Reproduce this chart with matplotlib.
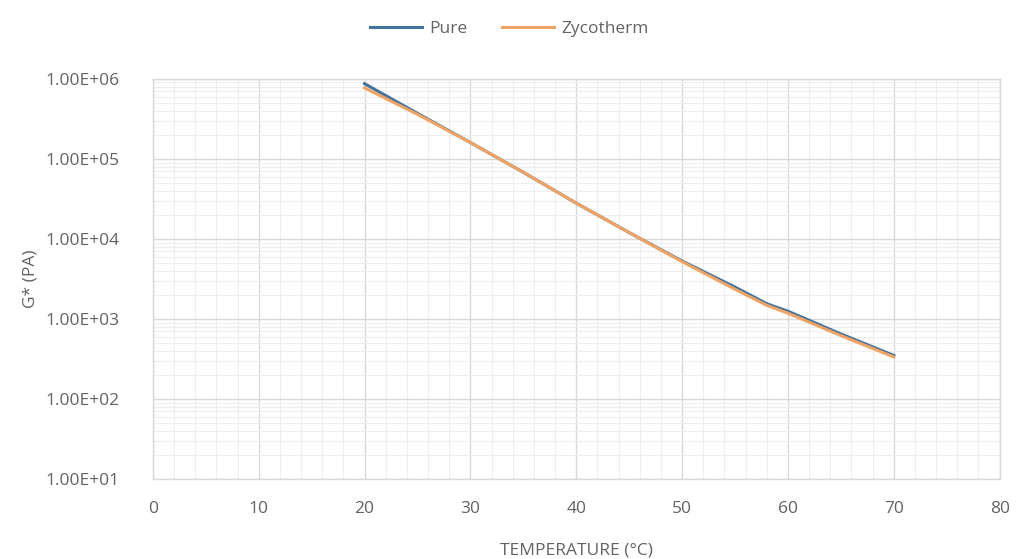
import math
import matplotlib
matplotlib.use("Agg")
import matplotlib.pyplot as plt
from matplotlib.ticker import MultipleLocator, LogLocator, FixedLocator, FuncFormatter, NullFormatter

plt.rcParams['font.family'] = ['Open Sans', 'DejaVu Sans']

# Complex shear modulus vs temperature
temperature = [20, 25, 30, 35, 40, 45, 50, 55, 58, 60, 65, 70]
pure = [8.7e5, 3.7e5, 1.6e5, 6.8e4, 2.8e4, 1.2e4, 5.3e3, 2.5e3, 1.55e3, 1.25e3, 6.5e2, 3.5e2]
zycotherm = [7.7e5, 3.6e5, 1.6e5, 6.8e4, 2.8e4, 1.2e4, 5.2e3, 2.35e3, 1.48e3, 1.18e3, 6.2e2, 3.35e2]

x_ticks = [0, 10, 20, 30, 40, 50, 60, 70, 80]
y_ticks = [1e1, 1e2, 1e3, 1e4, 1e5, 1e6]

text_color = '#626262'

fig = plt.figure(figsize=(10.19, 5.59), dpi=100)
ax = fig.add_axes([0.150, 0.143, 0.831, 0.716])

ax.plot(temperature, pure, color='#44729E', lw=2.2, label='Pure', zorder=3)
ax.plot(temperature, zycotherm, color='#EFA466', lw=2.2, label='Zycotherm', zorder=4)

ax.set_yscale('log')
ax.set_xlim(0, 80)
ax.set_ylim(1e1, 1e6)

ax.xaxis.set_major_locator(FixedLocator(x_ticks))
ax.xaxis.set_minor_locator(MultipleLocator(2))
ax.yaxis.set_major_locator(FixedLocator(y_ticks))
ax.yaxis.set_minor_locator(LogLocator(base=10, subs=range(2, 10)))
ax.yaxis.set_minor_formatter(NullFormatter())
ax.yaxis.set_major_formatter(FuncFormatter(lambda v, p: f"1.00E+{int(round(math.log10(v))):02d}"))

ax.grid(which='major', color='#D9D9D9', lw=1.0)
ax.grid(which='minor', color='#EEEEEE', lw=0.8)
ax.set_axisbelow(True)

for s in ax.spines.values():
    s.set_color('#D9D9D9')
    s.set_linewidth(1.0)

ax.tick_params(which='both', length=0, colors=text_color, labelsize=12.5)
ax.tick_params(axis='x', pad=16)
ax.tick_params(axis='y', pad=24)

ax.set_xlabel('TEMPERATURE (°C)', color=text_color, fontsize=12.5, labelpad=18)
ax.set_ylabel('G* (PA)', color=text_color, fontsize=12.5, labelpad=5)

leg = fig.legend(loc='center', bbox_to_anchor=(0.5, 0.948), ncol=2, frameon=False,
                 fontsize=12.5, handlelength=3.0, columnspacing=2.0, handletextpad=0.4)
for t in leg.get_texts():
    t.set_color(text_color)

fig.savefig('out.png', dpi=100, facecolor='white')
